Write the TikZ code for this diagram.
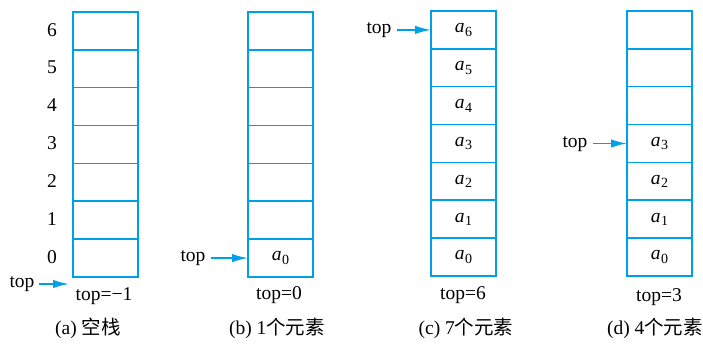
\documentclass[tikz,border=0pt]{standalone}
\usepackage{fontspec}
\setmainfont{Liberation Serif}
\newfontfamily\cjk{Noto Sans CJK SC}
\usetikzlibrary{arrows.meta}
\definecolor{stk}{RGB}{0,160,233}
\newcommand\elm[1]{{\itshape a}\kern0.3pt\raisebox{-0.4ex}{\fontsize{14}{14}\selectfont #1}}
\begin{document}
\begin{tikzpicture}[x=1pt,y=-1pt,
 cell/.style={draw=stk,line width=1.6pt,minimum width=65pt,minimum height=37.86pt,inner sep=0pt,outer sep=0pt,font=\fontsize{19.5}{21}\selectfont},
 lbl/.style={font=\fontsize{19.5}{21}\selectfont,inner sep=1pt},
 captxt/.style={font=\fontsize{19.5}{21}\selectfont,inner sep=1pt},
 arr/.style={draw=stk,line width=1.7pt,-{Latex[length=16pt,width=8.5pt]}},
]
\useasboundingbox (0,0) rectangle (703,344);
% stacks
\foreach \i in {0,...,6}{
  \node[cell] (a\i) at (105.5,{258.07-37.86*\i}) {};
  \node[lbl] (n\i) at (52,{257-37.86*\i}) {\i};
  \node[cell] (b\i) at (280.5,{258.07-37.86*\i}) {\ifnum\i=0 \elm{0}\fi};
  \node[cell] (c\i) at (463.5,{257.07-37.86*\i}) {\elm{\i}};
  \node[cell] (d\i) at (659.5,{257.07-37.86*\i}) {\ifnum\i<4 \elm{\i}\fi};
}
% (a)
\node[lbl] (ta) at (22,284) {top};
\coordinate (tae) at (69,284);
\draw[arr] (ta.east |- tae) ++(3,0) -- (tae);
\node[lbl] (va) at (104,296) {top=−1};
\node[captxt] (ca) at (88,328) {(a) {\cjk 空栈}};
% (b)
\node[lbl] (tb) at (193,258) {top};
\draw[arr] (tb.east |- b0.west) ++(4,0) -- (b0.west);
\node[lbl] (vb) at (279,295) {top=0};
\node[captxt] (cb) at (277,328) {(b) 1{\cjk 个元素}};
% (c)
\node[lbl] (tc) at (379,30) {top};
\draw[arr] (tc.east |- c6.west) ++(4,0) -- (c6.west);
\node[lbl] (vc) at (463,295) {top=6};
\node[captxt] (cc) at (466,328) {(c) 7{\cjk 个元素}};
% (d)
\node[lbl] (td) at (575,144) {top};
\draw[arr] (td.east |- d3.west) ++(4,0) -- (d3.west);
\node[lbl] (vd) at (659,297) {top=3};
\node[captxt] (cd) at (655,328) {(d) 4{\cjk 个元素}};
\end{tikzpicture}
\end{document}
